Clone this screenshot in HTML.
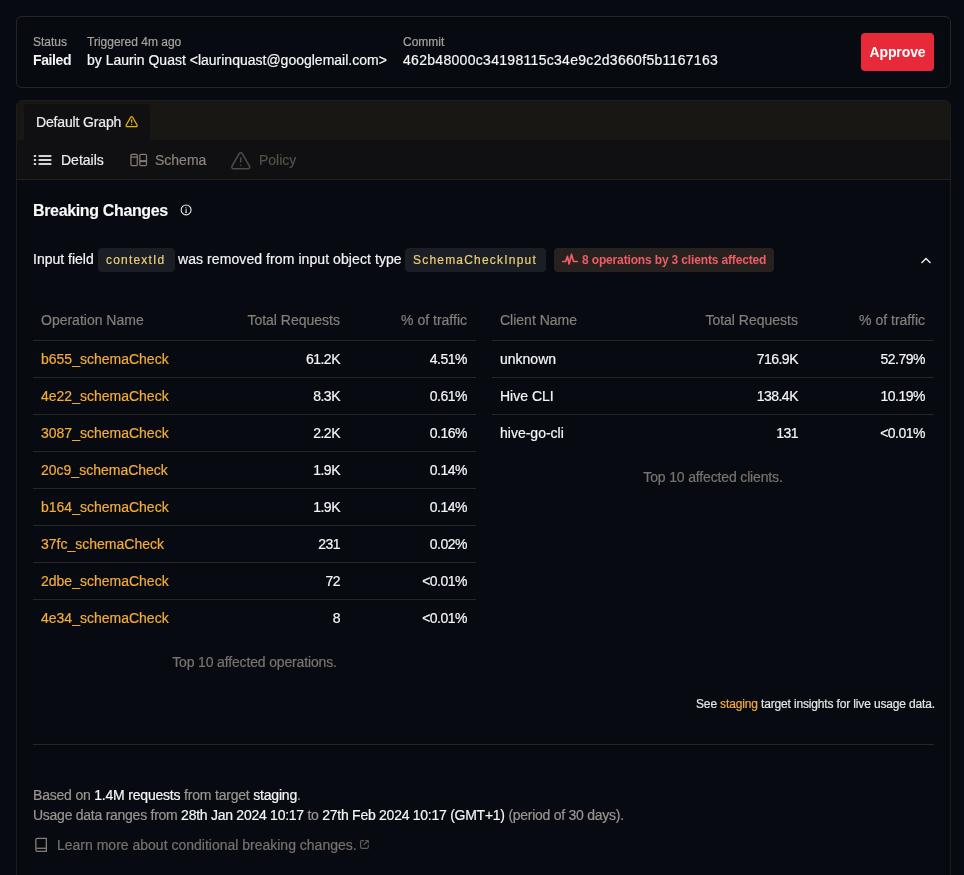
<!DOCTYPE html>
<html>
<head>
<meta charset="utf-8">
<style>
*{box-sizing:border-box;margin:0;padding:0}
html,body{width:964px;height:875px;overflow:hidden;background:#070b11;font-family:"Liberation Sans",sans-serif;color:#f2f2f2}
.abs{position:absolute}
#wrap{-webkit-text-stroke:0.2px currentColor}
.card1{position:absolute;left:16px;top:16px;width:935px;height:72px;border:1px solid #292524;border-radius:6px}
.lbl{position:absolute;font-size:12px;color:#a8a29e;line-height:16px;white-space:nowrap}
.val{position:absolute;font-size:14px;color:#f5f5f5;line-height:20px;white-space:nowrap}
.btn{-webkit-text-stroke:0;position:absolute;left:861px;top:33px;width:73px;height:38px;background:#e7293a;border-radius:4px;color:#fff;font-weight:700;font-size:14px;line-height:38px;text-align:center;letter-spacing:-0.1px}
.card2{position:absolute;left:16px;top:100px;width:935px;height:800px;border:1px solid #1f1c1a;border-radius:6px;overflow:hidden}
.tabs{position:absolute;left:0;top:0;width:100%;height:39px;background:#191714}
.tab{position:absolute;left:7px;top:3px;width:126px;height:36px;background:#100f11;border-radius:4px 4px 0 0;font-size:14px;line-height:36px;color:#ececec;padding-left:12px;white-space:nowrap}
.nav{position:absolute;left:0;top:39px;width:100%;height:40px;background:#100f11;border-bottom:1px solid #221f1c}
.navi{position:absolute;top:0;height:40px;line-height:40px;font-size:14px;white-space:nowrap}
.t{position:absolute;white-space:nowrap}
.chip{position:absolute;top:248px;height:24px;background:#1b1e25;border-radius:4px;color:#e8cf78;font-size:12px;letter-spacing:1.2px;line-height:24px;padding-left:8px}
.badge{-webkit-text-stroke:0;position:absolute;left:554px;top:248px;width:220px;height:24px;background:#27211f;border-radius:4px;color:#ee5d65;font-weight:700;font-size:12px;line-height:24px;letter-spacing:-0.15px;white-space:nowrap}
table{position:absolute;border-collapse:collapse;table-layout:fixed;font-size:14px}
th{height:40px;font-weight:400;color:#867f78;padding:0 8px;text-align:left;border-bottom:1px solid #292524}
td{height:37px;padding:0 8px;border-bottom:1px solid #292524;color:#f5f5f5}
tr:last-child td{border-bottom:none;height:37px;padding-top:1px}
td:nth-child(3),th:nth-child(3){padding-right:9px}
.r{text-align:right;letter-spacing:-0.5px}
.op{color:#f4ac38}
.rh{text-align:right}
.cap{position:absolute;font-size:14px;color:#7b746e;letter-spacing:-0.15px;line-height:20px;white-space:nowrap;text-align:center}
.hr{position:absolute;left:33px;top:744px;width:901px;height:1px;background:#292524}
.g{color:#9c958f}
</style>
</head>
<body>
<div id="wrap" style="position:absolute;left:0;top:0;width:964px;height:875px;will-change:transform">
<div class="card1"></div>
<div class="lbl" style="left:33px;top:34px">Status</div>
<div class="val" style="left:33px;top:50px;font-weight:700;letter-spacing:-0.4px;-webkit-text-stroke:0">Failed</div>
<div class="lbl" style="left:87px;top:34px">Triggered 4m ago</div>
<div class="val" style="left:87px;top:50px">by Laurin Quast &lt;laurinquast@googlemail.com&gt;</div>
<div class="lbl" style="left:403px;top:34px">Commit</div>
<div class="val" style="left:403px;top:50px;letter-spacing:0.3px">462b48000c34198115c34e9c2d3660f5b1167163</div>
<div class="btn">Approve</div>

<div class="card2">
  <div class="tabs">
    <div class="tab" style="letter-spacing:-0.15px">Default Graph</div>
  </div>
  <div class="nav">
    <div class="navi" style="left:44px;color:#ececec">Details</div>
    <div class="navi" style="left:138px;color:#8a837e">Schema</div>
    <div class="navi" style="left:242px;color:#56504b">Policy</div>
  </div>
</div>

<svg class="abs" style="left:125.3px;top:114.7px" width="13.3" height="13.3" viewBox="0 0 24 24" fill="none" stroke="#e2b007" stroke-width="2.4" stroke-linecap="round" stroke-linejoin="round"><path d="m21.73 18-8-14a2 2 0 0 0-3.48 0l-8 14A2 2 0 0 0 4 21h16a2 2 0 0 0 1.73-3"/><path d="M12 9v4"/><path d="M12 17h.01"/></svg>
<svg class="abs" style="left:33px;top:154px" width="20" height="12" viewBox="0 0 20 12" fill="#d0d3da"><rect x="0.8" y="1" width="2.3" height="2"/><rect x="0.8" y="5" width="2.3" height="2"/><rect x="0.8" y="9" width="2.3" height="2"/><rect x="5.6" y="1" width="12.8" height="2" rx="0.3"/><rect x="5.6" y="5" width="12.8" height="2" rx="0.3"/><rect x="5.6" y="9" width="12.8" height="2" rx="0.3"/></svg>
<svg class="abs" style="left:128px;top:152px" width="22" height="16" viewBox="128 152 22 16" fill="none" stroke="#847b74" stroke-width="1.25"><rect x="130.9" y="154.4" width="6.4" height="11.2" rx="1.2"/><rect x="139.8" y="154.4" width="6.7" height="11.2" rx="1.2"/><path d="M131 157.1h6.2"/><path d="M139.9 161.1h6.5" stroke-width="2"/></svg>
<svg class="abs" style="left:230.2px;top:149.5px" width="21.5" height="21.5" viewBox="0 0 24 24" fill="none" stroke="#4f4a47" stroke-width="1.75" stroke-linecap="round" stroke-linejoin="round"><path d="m21.73 18-8-14a2 2 0 0 0-3.48 0l-8 14A2 2 0 0 0 4 21h16a2 2 0 0 0 1.73-3"/><path d="M12 9v4"/><path d="M12 17h.01"/></svg>
<div class="t" style="left:33px;top:200px;-webkit-text-stroke:0.1px;font-size:16px;font-weight:700;letter-spacing:-0.35px;line-height:22px;color:#fafafa">Breaking Changes</div>
<svg class="abs" style="left:179px;top:203px" width="14" height="14" viewBox="179 203 14 14" fill="none" stroke="#e8e8e8" stroke-width="1.1"><circle cx="186.1" cy="209.9" r="4.95"/><path d="M186.1 208.6v3.4M185.1 212.3h2M185.5 207.3h.9" stroke-width="1"/></svg>

<div class="t" style="left:33px;top:249px;font-size:14px;line-height:20px">Input field</div>
<div class="chip" style="left:98px;width:77px">contextId</div>
<div class="t" style="left:178px;top:249px;font-size:14px;line-height:20px;letter-spacing:0.08px">was removed from input object type</div>
<div class="chip" style="left:405px;width:141px">SchemaCheckInput</div>
<div class="badge"><svg width="24" height="20" viewBox="558 250 24 20" style="position:absolute;left:4px;top:2px" fill="none" stroke="#ee5d65" stroke-width="1.7" stroke-linejoin="round" stroke-linecap="round"><path d="M562.8 261.5H565.6L567.5 256.4L569.1 264L571.5 254.4L573.6 261.5H577.3"/></svg><span style="position:absolute;left:28px">8 operations by 3 clients affected</span></div>
<svg class="abs" style="left:920px;top:255.8px" width="12" height="10" viewBox="0 0 12 10" fill="none" stroke="#f0f0f0" stroke-width="1.4"><path d="M1.5 7 6 2.5 10.5 7"/></svg>

<table style="left:33px;top:300px;width:443px">
<colgroup><col style="width:187px"><col style="width:128px"><col style="width:128px"></colgroup>
<tr><th>Operation Name</th><th class="rh">Total Requests</th><th class="rh">% of traffic</th></tr>
<tr><td class="op">b655_schemaCheck</td><td class="r">61.2K</td><td class="r">4.51%</td></tr>
<tr><td class="op">4e22_schemaCheck</td><td class="r">8.3K</td><td class="r">0.61%</td></tr>
<tr><td class="op">3087_schemaCheck</td><td class="r">2.2K</td><td class="r">0.16%</td></tr>
<tr><td class="op">20c9_schemaCheck</td><td class="r">1.9K</td><td class="r">0.14%</td></tr>
<tr><td class="op">b164_schemaCheck</td><td class="r">1.9K</td><td class="r">0.14%</td></tr>
<tr><td class="op">37fc_schemaCheck</td><td class="r">231</td><td class="r">0.02%</td></tr>
<tr><td class="op">2dbe_schemaCheck</td><td class="r">72</td><td class="r">&lt;0.01%</td></tr>
<tr><td class="op">4e34_schemaCheck</td><td class="r">8</td><td class="r">&lt;0.01%</td></tr>
</table>
<div class="cap" style="left:33px;top:652px;width:443px">Top 10 affected operations.</div>

<table style="left:492px;top:300px;width:442px">
<colgroup><col style="width:186px"><col style="width:128px"><col style="width:128px"></colgroup>
<tr><th>Client Name</th><th class="rh">Total Requests</th><th class="rh">% of traffic</th></tr>
<tr><td>unknown</td><td class="r">716.9K</td><td class="r">52.79%</td></tr>
<tr><td>Hive CLI</td><td class="r">138.4K</td><td class="r">10.19%</td></tr>
<tr><td>hive-go-cli</td><td class="r">131</td><td class="r">&lt;0.01%</td></tr>
</table>
<div class="cap" style="left:492px;top:467px;width:442px">Top 10 affected clients.</div>

<div class="t" style="right:29px;top:696px;font-size:12px;line-height:16px;letter-spacing:-0.15px;color:#e5e5e5">See <span class="op">staging</span> target insights for live usage data.</div>
<div class="hr"></div>

<div class="t g" style="left:33px;top:785px;font-size:14px;line-height:20px;letter-spacing:-0.2px">Based on <span style="color:#f5f5f5">1.4M requests</span> from target <span style="color:#f5f5f5">staging</span>.</div>
<div class="t g" style="left:33px;top:805px;font-size:14px;line-height:20px;letter-spacing:-0.26px">Usage data ranges from <span style="color:#f5f5f5">28th Jan 2024 10:17</span> to <span style="color:#f5f5f5">27th Feb 2024 10:17 (GMT+1)</span> (period of 30 days).</div>
<svg class="abs" style="left:30px;top:832px" width="22" height="24" viewBox="30 832 22 24" fill="none" stroke="#857c75" stroke-width="1.3" stroke-linejoin="round"><path d="M37.3 838.45H46.35V851.45H37.5Q35.85 851.45 35.85 849.8V839.9Q35.85 838.45 37.3 838.45Z"/><path d="M36.4 848.3H46.3"/></svg>
<div class="t" style="left:57px;top:835px;font-size:14px;line-height:20px;color:#78716c">Learn more about conditional breaking changes.</div>
<svg class="abs" style="left:356px;top:836px" width="18" height="18" viewBox="356 836 18 18" fill="none" stroke="#625b55" stroke-width="1.25" stroke-linecap="round" stroke-linejoin="round"><path d="M363.6 840.6H361.8Q360.6 840.6 360.6 841.8V847.1Q360.6 848.3 361.8 848.3H367.1Q368.3 848.3 368.3 847.1V845.4"/><path d="M364 844.6L367.9 840.8"/><path d="M365.6 840.6H368.3V843.3" stroke-width="1"/></svg>
</div>
</body>
</html>
